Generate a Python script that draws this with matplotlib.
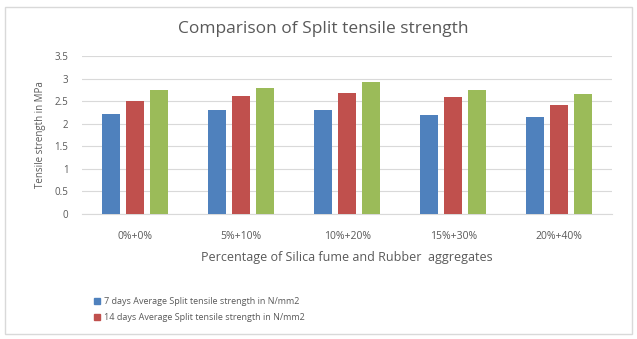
import numpy as np
import matplotlib.pyplot as plt
from matplotlib.patches import Rectangle, Patch

plt.rcParams['font.family'] = ['Open Sans', 'DejaVu Sans']

groups = ['0%+0%', '5%+10%', '10%+20%', '15%+30%', '20%+40%']
days7 = [2.22, 2.30, 2.30, 2.20, 2.15]
days14 = [2.50, 2.62, 2.67, 2.58, 2.42]
days28 = [2.75, 2.80, 2.93, 2.75, 2.65]
names = ['7 days Average Split tensile strength in N/mm2',
         '14 days Average Split tensile strength in N/mm2']

blue = '#4F81BD'
red = '#C0504D'
green = '#9BBB59'
txt = '#595959'

fig = plt.figure(figsize=(6.37, 3.39), dpi=100)
fig.patches.append(Rectangle((0.008, 0.015), 0.984, 0.965, transform=fig.transFigure,
                             fill=False, edgecolor='#D9D9D9', lw=1))
ax = fig.add_axes([0.129, 0.369, 0.832, 0.466])

x = np.arange(len(groups))
w = 0.175
step = 0.226
ax.bar(x - step, days7, w, color=blue, zorder=3)
ax.bar(x, days14, w, color=red, zorder=3)
ax.bar(x + step, days28, w, color=green, zorder=3)

ax.set_xlim(-0.5, len(groups) - 0.5)
ax.set_ylim(0, 3.5)
ax.set_yticks(np.arange(0, 3.51, 0.5))
ax.set_yticklabels(['0', '0.5', '1', '1.5', '2', '2.5', '3', '3.5'])
ax.set_xticks(x)
ax.set_xticklabels(groups)
ax.grid(axis='y', color='#D9D9D9', lw=0.8, zorder=0)
for s in ['top', 'right', 'left']:
    ax.spines[s].set_visible(False)
ax.spines['bottom'].set_color('#D9D9D9')
ax.tick_params(axis='x', length=0, labelsize=7.5, colors=txt, pad=12)
ax.tick_params(axis='y', length=0, labelsize=7, colors=txt, pad=10)

fig.text(0.507, 0.915, 'Comparison of Split tensile strength', fontsize=12.5,
         color=txt, ha='center', va='center')
ax.set_xlabel('Percentage of Silica fume and Rubber  aggregates', fontsize=9, color=txt, labelpad=7)
ax.set_ylabel('Tensile strength in MPa', fontsize=7, color=txt, labelpad=6)

handles = [Patch(color=blue), Patch(color=red)]
fig.legend(handles, names, loc='upper left', bbox_to_anchor=(0.135, 0.148),
           frameon=False, fontsize=6.5, labelcolor=txt, handlelength=0.7,
           handleheight=0.7, handletextpad=0.4, labelspacing=0.8)

fig.savefig('out.png', dpi=100)
